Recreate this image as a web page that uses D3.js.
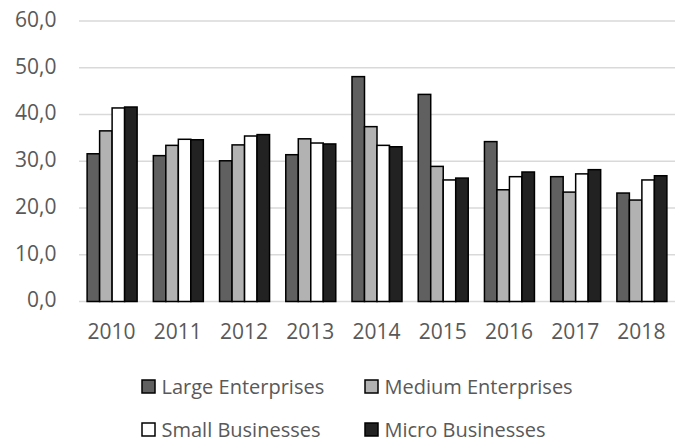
<!DOCTYPE html>
<html><head><meta charset="utf-8">
<script src="https://cdn.jsdelivr.net/npm/d3@7"></script>
<style>body{margin:0;background:#fff}svg{display:block}</style>
</head><body>
<script>
const years = ["2010","2011","2012","2013","2014","2015","2016","2017","2018"];
const seriesNames = ["Large Enterprises","Medium Enterprises","Small Businesses","Micro Businesses"];
const large  = [31.6, 31.2, 30.1, 31.4, 48.1, 44.3, 34.2, 26.7, 23.2];
const medium = [36.5, 33.4, 33.5, 34.8, 37.4, 28.9, 23.9, 23.4, 21.7];
const small  = [41.4, 34.7, 35.4, 33.9, 33.4, 26.0, 26.7, 27.3, 26.0];
const micro  = [41.6, 34.6, 35.7, 33.7, 33.1, 26.4, 27.7, 28.2, 26.9];
const yTicks = [0, 10, 20, 30, 40, 50, 60];
const colors = ["#606060", "#b2b2b2", "#ffffff", "#222222"];
const allSeries = [large, medium, small, micro];

(function () {
const W = 678, H = 441;
const svg = d3.select("body").append("svg").attr("width", W).attr("height", H);
const mLeft = 79, mRight = 675, mTop = 21, mBottom = 301.5;
const x = d3.scaleBand().domain(years).range([mLeft, mRight]).paddingInner(0.245).paddingOuter(0.1225);
const xi = d3.scaleBand().domain(d3.range(4)).range([0, x.bandwidth()]);
const y = d3.scaleLinear().domain([0, 60]).range([mBottom, mTop]);
const fmt = v => d3.format(".1f")(v).replace(".", ",");

svg.append("g").selectAll("line").data(yTicks).join("line")
  .attr("x1", mLeft).attr("x2", mRight)
  .attr("y1", d => y(d)).attr("y2", d => y(d))
  .attr("stroke", "#d9d9d9").attr("stroke-width", 1.5);

svg.append("g").selectAll("text").data(yTicks).join("text")
  .attr("x", 56.5).attr("y", d => y(d) - 1.5).attr("dy", "0.357em")
  .attr("text-anchor", "end")
  .attr("font-family", "Open Sans").attr("font-size", 21).attr("fill", "#595959")
  .text(fmt);

const groups = svg.append("g").selectAll("g").data(years).join("g")
  .attr("transform", d => `translate(${x(d)},0)`);
groups.selectAll("rect").data((d, i) => allSeries.map((s, k) => ({k, v: s[i]}))).join("rect")
  .attr("x", d => xi(d.k)).attr("width", xi.bandwidth())
  .attr("y", d => y(d.v)).attr("height", d => y(0) - y(d.v))
  .attr("fill", d => colors[d.k]).attr("stroke", "#000").attr("stroke-width", 1.5);

svg.append("g").selectAll("text").data(years).join("text")
  .attr("x", d => x(d) + x.bandwidth() / 2 - 0.5).attr("y", 338.5)
  .attr("text-anchor", "middle")
  .attr("font-family", "Open Sans").attr("font-size", 21).attr("fill", "#595959")
  .text(d => d);

const legPos = [[142, 380], [365, 380], [142, 423], [365, 423]];
const leg = svg.append("g").selectAll("g").data(seriesNames).join("g")
  .attr("transform", (d, i) => `translate(${legPos[i][0]},${legPos[i][1]})`);
leg.append("rect").attr("width", 13).attr("height", 13)
  .attr("fill", (d, i) => colors[i]).attr("stroke", "#000").attr("stroke-width", 1.5);
leg.append("text").attr("x", 19.5).attr("y", 13.5)
  .attr("font-family", "Open Sans").attr("font-size", 20).attr("fill", "#595959")
  .text(d => d);
})();
</script>
</body></html>
